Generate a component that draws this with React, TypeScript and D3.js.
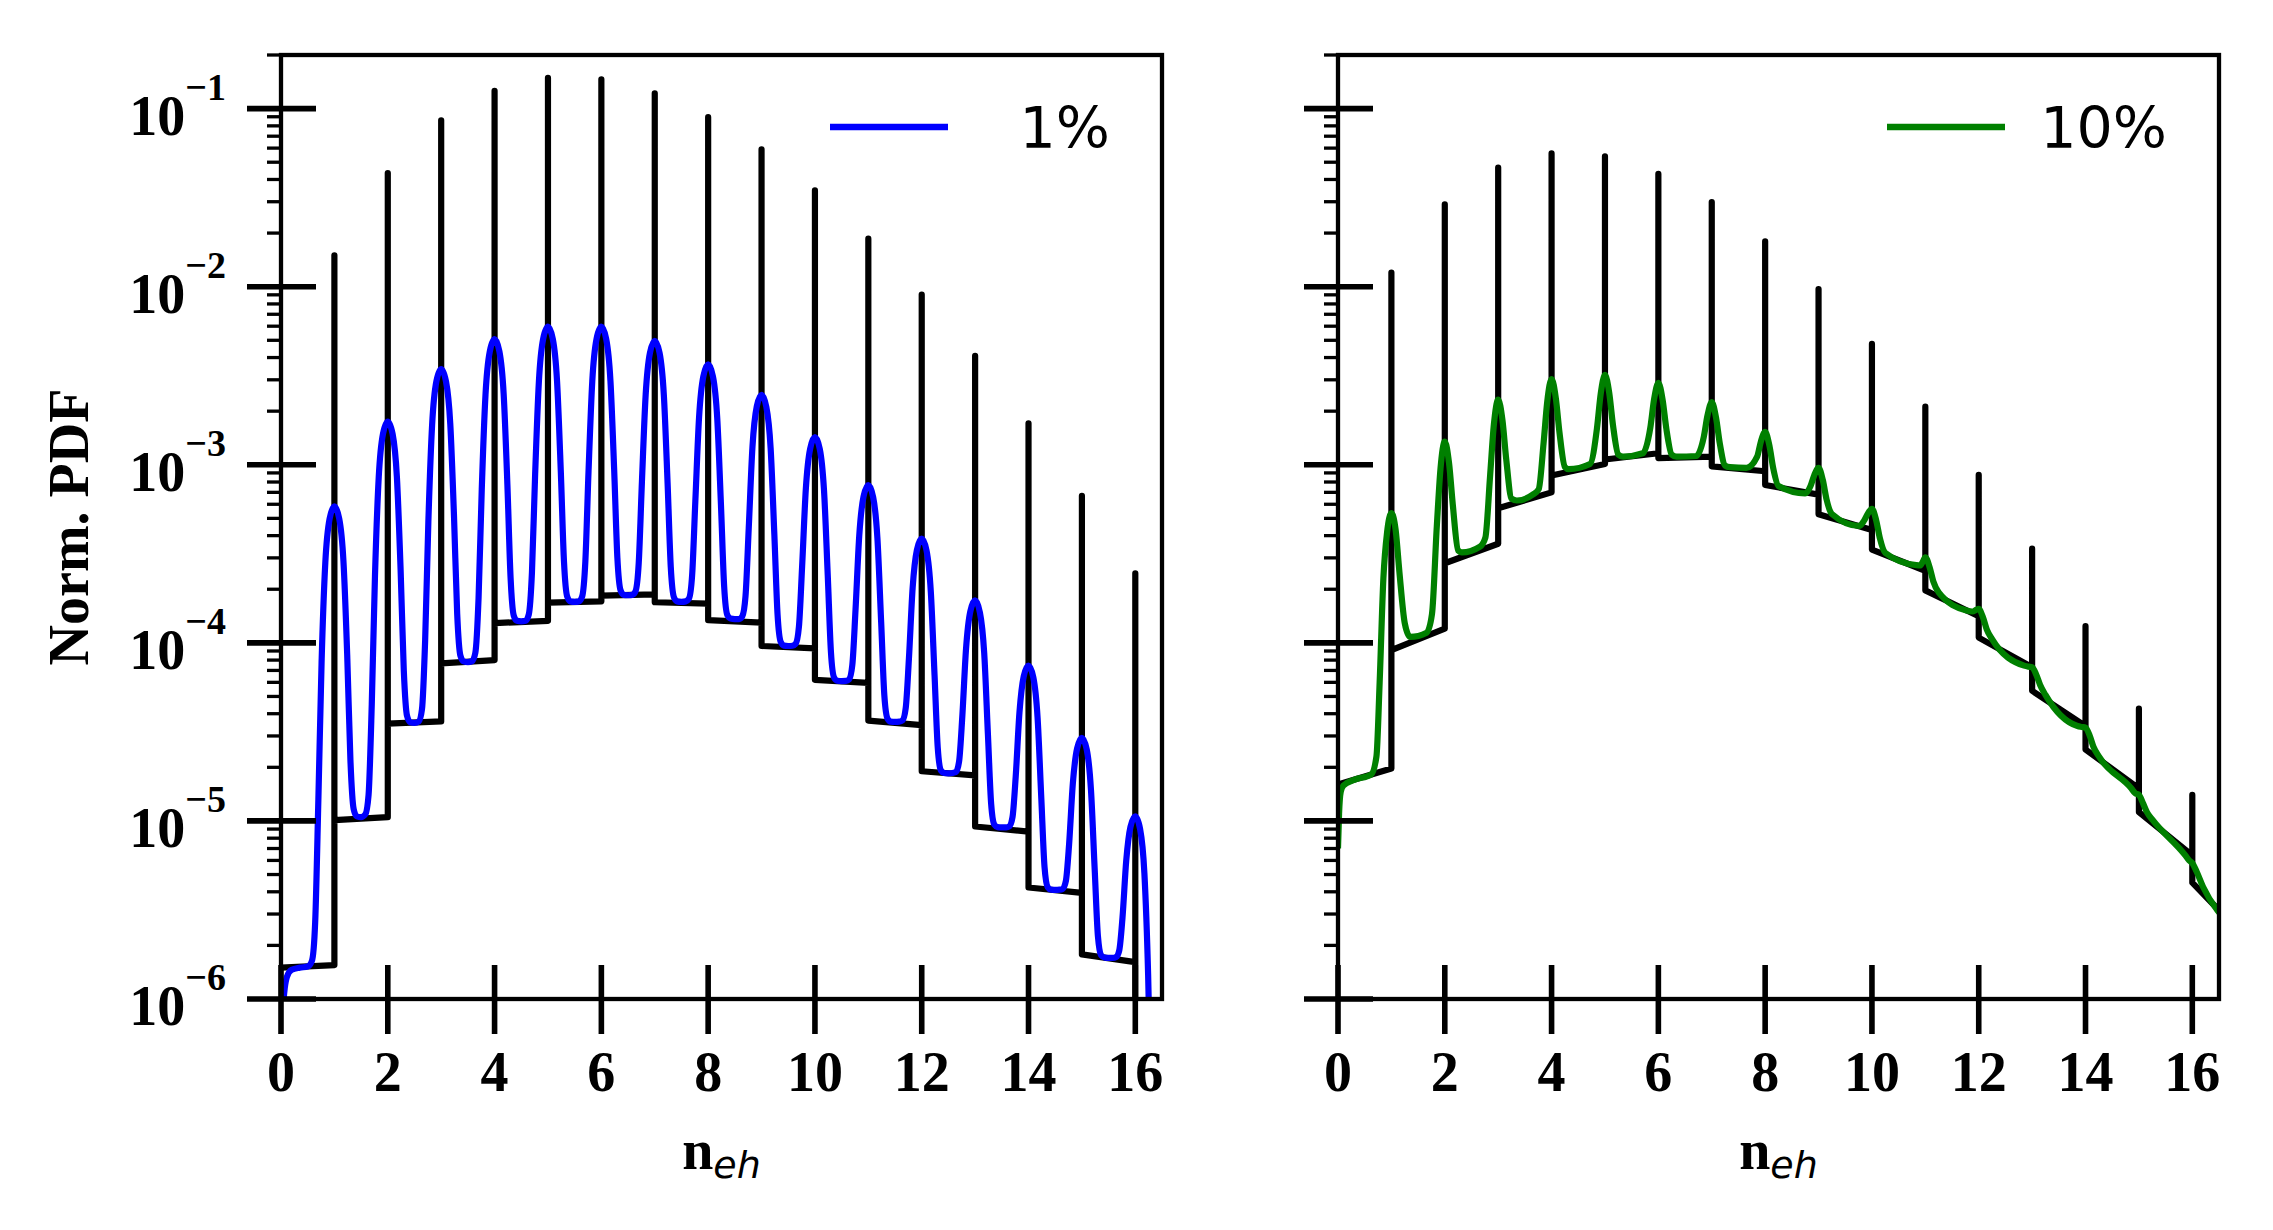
import * as d3 from 'd3'

type Pt = [number, number]

const W = 2273
const H = 1230

// axis limits
const xMax = 16.5
const yMin = 1e-6
const yMax = 0.2

const xTicks = [0, 2, 4, 6, 8, 10, 12, 14, 16]
const yMajor = [1e-6, 1e-5, 1e-4, 1e-3, 1e-2, 1e-1]
const yExp = ['−6', '−5', '−4', '−3', '−2', '−1']

const legendLabels = ['1%', '10%']
const seriesColors = ['#0000ff', '#008000']

// black reference (left panel): spike heights at n = 1..16, step level at start / end of each interval
const leftSpikes = [1.5e-2, 4.35e-2, 8.6e-2, 0.126, 0.149, 0.146, 0.122, 8.95e-2, 5.9e-2, 3.48e-2, 1.86e-2, 9.04e-3, 4.09e-3, 1.71e-3, 6.7e-4, 2.46e-4]
const leftStepStart = [1.5e-6, 1.01e-5, 3.52e-5, 7.67e-5, 1.29e-4, 1.68e-4, 1.84e-4, 1.69e-4, 1.34e-4, 9.6e-5, 6.2e-5, 3.66e-5, 1.9e-5, 9.3e-6, 4.23e-6, 1.78e-6, 3e-7]
const leftStepEnd = [1.55e-6, 1.05e-5, 3.62e-5, 8.0e-5, 1.33e-4, 1.71e-4, 1.87e-4, 1.66e-4, 1.3e-4, 9.3e-5, 5.96e-5, 3.45e-5, 1.8e-5, 8.7e-6, 3.94e-6, 1.61e-6, 2.5e-7]

// black reference (right panel)
const rightSpikes = [1.2e-2, 2.9e-2, 4.67e-2, 5.6e-2, 5.4e-2, 4.3e-2, 2.99e-2, 1.8e-2, 9.7e-3, 4.77e-3, 2.12e-3, 8.77e-4, 3.38e-4, 1.24e-4, 4.27e-5, 1.4e-5]
const rightStepStart = [1.6e-5, 9.1e-5, 2.8e-4, 5.7e-4, 8.7e-4, 1.07e-3, 1.09e-3, 9.8e-4, 7.7e-4, 5.27e-4, 3.34e-4, 1.97e-4, 1.07e-4, 5.38e-5, 2.52e-5, 1.12e-5, 4.5e-6]
const rightStepEnd = [1.97e-5, 1.2e-4, 3.6e-4, 7.0e-4, 1.01e-3, 1.16e-3, 1.11e-3, 9.2e-4, 6.8e-4, 4.3e-4, 2.54e-4, 1.41e-4, 7.3e-5, 3.41e-5, 1.52e-5, 6.4e-6, 3.15e-6]

// smeared curve, 1%
const blueCurve: Pt[] = [
  [0.03, 8.0e-7], [0.05, 1.0e-6], [0.07, 1.15e-6], [0.11, 1.33e-6], [0.2, 1.46e-6], [0.35, 1.5e-6], [0.5, 1.52e-6],
  [0.58, 1.64e-6], [0.64, 2.69e-6], [0.7, 1.32e-5], [0.76, 7.74e-5], [0.83, 2.82e-4], [0.91, 4.97e-4], [1.0, 5.85e-4],
  [1.09, 4.99e-4], [1.17, 2.86e-4], [1.24, 8.52e-5], [1.3, 2.2e-5], [1.36, 1.17e-5], [1.42, 1.06e-5], [1.5, 1.05e-5],
  [1.58, 1.09e-5], [1.64, 1.4e-5], [1.7, 4.53e-5], [1.76, 2.37e-4], [1.83, 8.46e-4], [1.91, 1.49e-3], [2.0, 1.75e-3],
  [2.09, 1.49e-3], [2.17, 8.59e-4], [2.24, 2.58e-4], [2.3, 6.98e-5], [2.36, 3.89e-5], [2.42, 3.58e-5], [2.5, 3.55e-5],
  [2.58, 3.62e-5], [2.64, 4.23e-5], [2.7, 1.04e-4], [2.76, 4.79e-4], [2.83, 1.67e-3], [2.91, 2.94e-3], [3.0, 3.45e-3],
  [3.09, 2.94e-3], [3.17, 1.7e-3], [3.24, 5.16e-4], [3.3, 1.45e-4], [3.36, 8.47e-5], [3.42, 7.87e-5], [3.5, 7.8e-5],
  [3.58, 7.9e-5], [3.64, 8.8e-5], [3.7, 1.78e-4], [3.76, 7.27e-4], [3.83, 2.47e-3], [3.91, 4.32e-3], [4.0, 5.07e-3],
  [4.09, 4.33e-3], [4.17, 2.5e-3], [4.24, 7.74e-4], [4.3, 2.31e-4], [4.36, 1.42e-4], [4.42, 1.33e-4], [4.5, 1.32e-4],
  [4.58, 1.33e-4], [4.64, 1.44e-4], [4.7, 2.49e-4], [4.76, 8.9e-4], [4.83, 2.93e-3], [4.91, 5.09e-3], [5.0, 5.96e-3],
  [5.09, 5.09e-3], [5.17, 2.95e-3], [5.24, 9.23e-4], [5.3, 2.86e-4], [5.36, 1.82e-4], [5.42, 1.71e-4], [5.5, 1.7e-4],
  [5.58, 1.71e-4], [5.64, 1.82e-4], [5.7, 2.86e-4], [5.76, 9.23e-4], [5.83, 2.95e-3], [5.91, 5.09e-3], [6.0, 5.96e-3],
  [6.09, 5.09e-3], [6.17, 2.96e-3], [6.24, 9.36e-4], [6.3, 3.0e-4], [6.36, 1.97e-4], [6.42, 1.86e-4], [6.5, 1.85e-4],
  [6.58, 1.86e-4], [6.64, 1.95e-4], [6.7, 2.81e-4], [6.76, 8.07e-4], [6.83, 2.48e-3], [6.91, 4.25e-3], [7.0, 4.97e-3],
  [7.09, 4.25e-3], [7.17, 2.47e-3], [7.24, 7.94e-4], [7.3, 2.66e-4], [7.36, 1.8e-4], [7.42, 1.71e-4], [7.5, 1.7e-4],
  [7.58, 1.71e-4], [7.64, 1.77e-4], [7.7, 2.4e-4], [7.76, 6.24e-4], [7.83, 1.85e-3], [7.91, 3.14e-3], [8.0, 3.66e-3],
  [8.09, 3.13e-3], [8.17, 1.83e-3], [8.24, 5.94e-4], [8.3, 2.07e-4], [8.36, 1.43e-4], [8.42, 1.37e-4], [8.5, 1.36e-4],
  [8.58, 1.36e-4], [8.64, 1.41e-4], [8.7, 1.83e-4], [8.76, 4.39e-4], [8.83, 1.26e-3], [8.91, 2.12e-3], [9.0, 2.47e-3],
  [9.09, 2.11e-3], [9.17, 1.24e-3], [9.24, 4.05e-4], [9.3, 1.44e-4], [9.36, 1.01e-4], [9.42, 9.65e-5], [9.5, 9.6e-5],
  [9.58, 9.63e-5], [9.64, 9.87e-5], [9.7, 1.23e-4], [9.76, 2.69e-4], [9.83, 7.36e-4], [9.91, 1.23e-3], [10.0, 1.43e-3],
  [10.09, 1.23e-3], [10.17, 7.18e-4], [10.24, 2.39e-4], [10.3, 8.84e-5], [10.36, 6.37e-5], [10.42, 6.13e-5], [10.5, 6.1e-5],
  [10.58, 6.11e-5], [10.64, 6.24e-5], [10.7, 7.51e-5], [10.76, 1.53e-4], [10.83, 4.0e-4], [10.91, 6.62e-4], [11.0, 7.68e-4],
  [11.09, 6.58e-4], [11.17, 3.87e-4], [11.24, 1.31e-4], [11.3, 5.06e-5], [11.36, 3.75e-5], [11.42, 3.61e-5], [11.5, 3.6e-5],
  [11.58, 3.61e-5], [11.64, 3.67e-5], [11.7, 4.3e-5], [11.76, 8.14e-5], [11.83, 2.04e-4], [11.91, 3.33e-4], [12.0, 3.85e-4],
  [12.09, 3.3e-4], [12.17, 1.94e-4], [12.24, 6.61e-5], [12.3, 2.58e-5], [12.36, 1.92e-5], [12.42, 1.86e-5], [12.5, 1.85e-5],
  [12.58, 1.86e-5], [12.64, 1.88e-5], [12.7, 2.16e-5], [12.76, 3.86e-5], [12.83, 9.27e-5], [12.91, 1.5e-4], [13.0, 1.73e-4],
  [13.09, 1.48e-4], [13.17, 8.78e-5], [13.24, 3.05e-5], [13.3, 1.25e-5], [13.36, 9.53e-6], [13.42, 9.23e-6], [13.5, 9.2e-6],
  [13.58, 9.21e-6], [13.64, 9.33e-6], [13.7, 1.05e-5], [13.76, 1.77e-5], [13.83, 4.05e-5], [13.91, 6.47e-5], [14.0, 7.45e-5],
  [14.09, 6.39e-5], [14.17, 3.79e-5], [14.24, 1.33e-5], [14.3, 5.51e-6], [14.36, 4.24e-6], [14.42, 4.11e-6], [14.5, 4.1e-6],
  [14.58, 4.11e-6], [14.64, 4.15e-6], [14.7, 4.6e-6], [14.76, 7.38e-6], [14.83, 1.62e-5], [14.91, 2.55e-5], [15.0, 2.93e-5],
  [15.09, 2.52e-5], [15.17, 1.49e-5], [15.24, 5.29e-6], [15.3, 2.25e-6], [15.36, 1.76e-6], [15.42, 1.71e-6], [15.5, 1.7e-6],
  [15.58, 1.7e-6], [15.64, 1.72e-6], [15.7, 1.88e-6], [15.76, 2.86e-6], [15.83, 5.97e-6], [15.91, 9.27e-6], [16.0, 1.06e-5],
  [16.09, 9.0e-6], [16.17, 5.1e-6], [16.24, 1.38e-6], [16.3, 2.1e-7], [16.36, 2e-8],
]

// smeared curve, 10%
const greenCurve: Pt[] = [
  [0.0, 7.0e-6], [0.02, 1.1e-5], [0.05, 1.45e-5], [0.1, 1.58e-5], [0.3, 1.7e-5], [0.62, 1.82e-5],
  [0.72, 2.3e-5], [0.78, 6.0e-5], [0.85, 2.3e-4], [0.92, 4.2e-4], [1.0, 5.35e-4], [1.08, 4.3e-4], [1.15, 2.5e-4], [1.25, 1.29e-4], [1.35, 1.08e-4], [1.66, 1.14e-4],
  [1.76, 1.45e-4], [1.85, 4.48e-4], [1.92, 9.54e-4], [2.0, 1.35e-3], [2.08, 1.02e-3], [2.15, 5.97e-4], [2.25, 3.3e-4], [2.32, 3.22e-4], [2.66, 3.47e-4],
  [2.76, 3.9e-4], [2.85, 8.8e-4], [2.92, 1.69e-3], [3.0, 2.32e-3], [3.08, 1.78e-3], [3.15, 1.08e-3], [3.25, 6.45e-4], [3.35, 6.3e-4], [3.65, 6.8e-4],
  [3.76, 7.3e-4], [3.85, 1.32e-3], [3.92, 2.28e-3], [4.0, 3.03e-3], [4.08, 2.36e-3], [4.15, 1.5e-3], [4.25, 9.7e-4], [4.32, 9.45e-4], [4.72, 1.01e-3],
  [4.85, 1.6e-3], [4.92, 2.5e-3], [5.0, 3.2e-3], [5.08, 2.53e-3], [5.15, 1.67e-3], [5.25, 1.14e-3], [5.34, 1.11e-3], [5.71, 1.16e-3],
  [5.85, 1.62e-3], [5.92, 2.33e-3], [6.0, 2.88e-3], [6.08, 2.31e-3], [6.15, 1.59e-3], [6.25, 1.14e-3], [6.34, 1.11e-3], [6.71, 1.12e-3],
  [6.85, 1.43e-3], [6.92, 1.89e-3], [7.0, 2.25e-3], [7.08, 1.84e-3], [7.15, 1.32e-3], [7.25, 9.9e-4], [7.34, 9.7e-4], [7.65, 9.6e-4],
  [7.85, 1.11e-3], [7.92, 1.35e-3], [8.0, 1.53e-3], [8.08, 1.28e-3], [8.15, 9.6e-4], [8.25, 7.6e-4], [8.75, 6.9e-4],
  [8.85, 7.6e-4], [8.92, 8.74e-4], [9.0, 9.6e-4], [9.08, 8.2e-4], [9.15, 6.39e-4], [9.25, 5.29e-4], [9.76, 4.53e-4],
  [9.85, 4.84e-4], [9.92, 5.3e-4], [10.0, 5.66e-4], [10.08, 4.87e-4], [10.15, 3.85e-4], [10.25, 3.2e-4], [10.83, 2.73e-4],
  [10.9, 2.72e-4], [10.95, 2.85e-4], [11.0, 3.02e-4], [11.08, 2.66e-4], [11.15, 2.21e-4], [11.25, 1.92e-4], [11.77, 1.52e-4],
  [11.88, 1.5e-4], [11.95, 1.53e-4], [12.0, 1.55e-4], [12.08, 1.39e-4], [12.15, 1.19e-4], [12.25, 1.05e-4], [12.85, 7.45e-5],
  [12.93, 7.35e-5], [13.0, 7.3e-5], [13.08, 6.6e-5], [13.15, 5.8e-5], [13.25, 5.1e-5], [13.85, 3.41e-5],
  [13.93, 3.37e-5], [14.0, 3.34e-5], [14.08, 3.0e-5], [14.15, 2.6e-5], [14.26, 2.28e-5], [14.86, 1.52e-5],
  [14.93, 1.43e-5], [15.0, 1.4e-5], [15.08, 1.25e-5], [15.15, 1.12e-5], [15.26, 1.01e-5], [15.87, 6.4e-6],
  [15.94, 6.0e-6], [16.0, 5.8e-6], [16.08, 5.2e-6], [16.2, 4.27e-6], [16.47, 3.15e-6], [16.55, 2.95e-6],
]

const serif = "'Liberation Serif', 'Times New Roman', Times, serif"
const sans = "'DejaVu Sans', Verdana, sans-serif"

const plotW = 881
const plotTop = 55
const plotBottom = 999
const panelLefts = [281, 1338]

// step line with a spike at every integer
function stepPoints(starts: number[], ends: number[], spikes: number[]): Pt[] {
  const pts: Pt[] = []
  starts.forEach((s, i) => {
    pts.push([i, s])
    const last = i >= spikes.length
    pts.push([last ? xMax : i + 1, ends[i]])
    if (!last) pts.push([i + 1, spikes[i]])
  })
  return pts
}

type PanelProps = {
  idx: number
  starts: number[]
  ends: number[]
  spikes: number[]
  curve: Pt[]
  showYLabels: boolean
}

function Panel({ idx, starts, ends, spikes, curve, showYLabels }: PanelProps) {
  const left = panelLefts[idx]
  const x = d3.scaleLinear().domain([0, xMax]).range([left, left + plotW])
  const y = d3.scaleLog().domain([yMin, yMax]).range([plotBottom, plotTop])

  const straight = d3.line<Pt>().x((d) => x(d[0])).y((d) => y(d[1]))
  const smooth = d3.line<Pt>().x((d) => x(d[0])).y((d) => y(d[1])).curve(d3.curveMonotoneX)

  const minor = y.ticks().filter((t) => Math.abs(Math.log10(t) - Math.round(Math.log10(t))) > 1e-6)
  const clipId = `clip-${idx}`
  const color = seriesColors[idx]

  return (
    <g>
      <defs>
        <clipPath id={clipId}>
          <rect x={left} y={plotTop} width={plotW} height={plotBottom - plotTop} />
        </clipPath>
      </defs>
      <g clipPath={`url(#${clipId})`} fill="none" strokeLinejoin="round">
        <path d={straight(stepPoints(starts, ends, spikes)) ?? ''} stroke="#000" strokeWidth={6.2} />
        <path d={smooth(curve) ?? ''} stroke={color} strokeWidth={6.2} />
      </g>

      <rect x={left} y={plotTop} width={plotW} height={plotBottom - plotTop} fill="none" stroke="#000" strokeWidth={4.3} />

      {/* y ticks */}
      {minor.map((t) => (
        <line key={`m${t}`} x1={left - 14} x2={left} y1={y(t)} y2={y(t)} stroke="#000" strokeWidth={3.3} />
      ))}
      {yMajor.map((t, i) => (
        <g key={`M${t}`}>
          <line x1={left - 34} x2={left + 35} y1={y(t)} y2={y(t)} stroke="#000" strokeWidth={5.6} />
          {showYLabels && (
            <text x={left - 55} y={y(t) + 26} textAnchor="end" fontFamily={serif} fontWeight="bold" fontSize={56}>
              <tspan>10</tspan>
              <tspan dy={-35} fontSize={38}>{yExp[i]}</tspan>
            </text>
          )}
        </g>
      ))}

      {/* x ticks */}
      {xTicks.map((t) => (
        <g key={`x${t}`}>
          <line x1={x(t)} x2={x(t)} y1={plotBottom - 34} y2={plotBottom + 35} stroke="#000" strokeWidth={5.6} />
          <text x={x(t)} y={1091} textAnchor="middle" fontFamily={serif} fontWeight="bold" fontSize={56}>
            {t}
          </text>
        </g>
      ))}

      <text x={left + plotW / 2} y={1169} textAnchor="middle">
        <tspan fontFamily={serif} fontWeight="bold" fontSize={56}>n</tspan>
        <tspan dy={9} fontFamily={sans} fontStyle="italic" fontSize={38}>eh</tspan>
      </text>

      {/* legend */}
      <line x1={left + 549} x2={left + 667} y1={127} y2={127} stroke={color} strokeWidth={6.4} />
      <text x={left + 829} y={148} textAnchor="end" fontFamily={sans} fontSize={57}>
        {legendLabels[idx]}
      </text>
    </g>
  )
}

export default function App() {
  return (
    <svg
      width={W}
      height={H}
      viewBox={`0 0 ${W} ${H}`}
      style={{ position: 'absolute', left: 0, top: 0, background: '#fff' }}
    >
      <rect width={W} height={H} fill="#fff" />
      <text
        transform={`translate(88, 527) rotate(-90)`}
        textAnchor="middle"
        fontFamily={serif}
        fontWeight="bold"
        fontSize={56}
      >
        Norm. PDF
      </text>
      <Panel idx={0} starts={leftStepStart} ends={leftStepEnd} spikes={leftSpikes} curve={blueCurve} showYLabels />
      <Panel idx={1} starts={rightStepStart} ends={rightStepEnd} spikes={rightSpikes} curve={greenCurve} showYLabels={false} />
    </svg>
  )
}
